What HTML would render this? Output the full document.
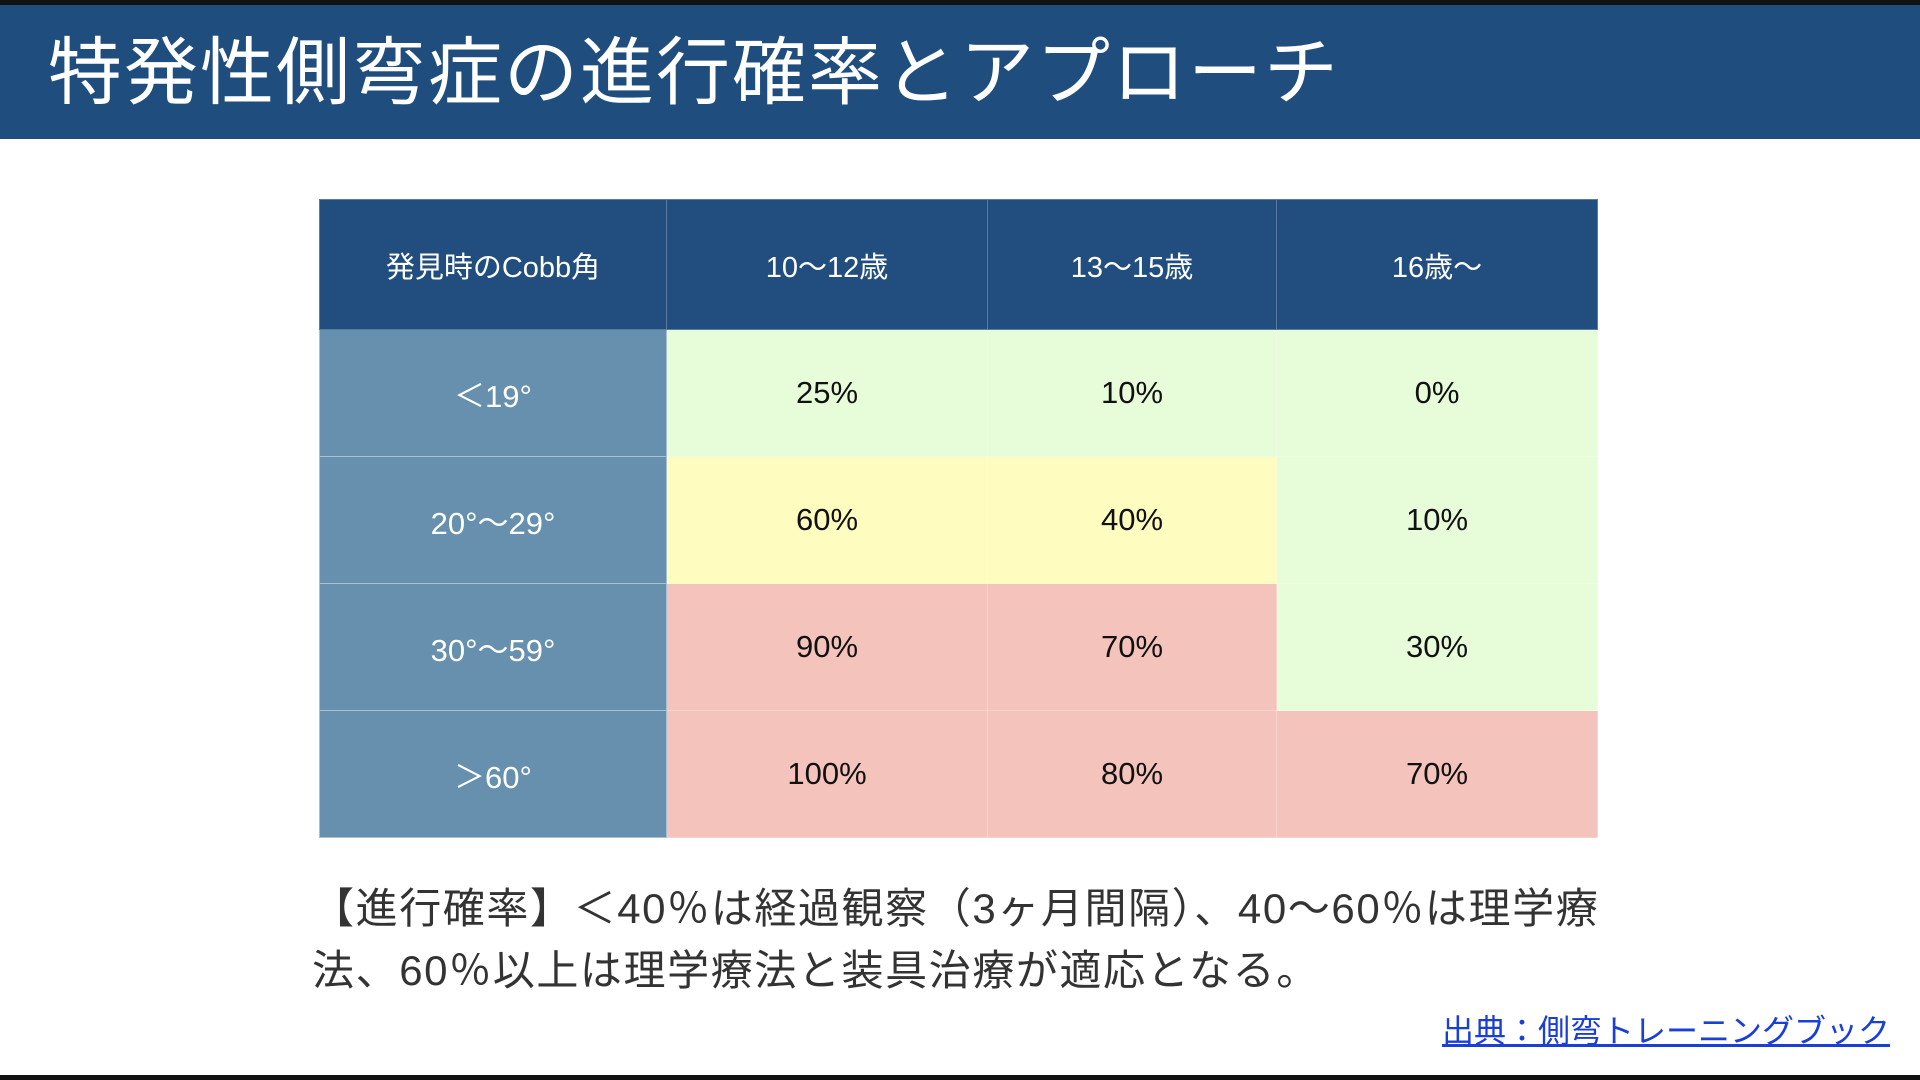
<!DOCTYPE html>
<html><head><meta charset="utf-8"><style>
*{margin:0;padding:0;box-sizing:border-box}
body{width:1920px;height:1080px;background:#fff;position:relative;overflow:hidden;font-family:"Liberation Sans","Noto Sans CJK JP",sans-serif}
.topbar{position:absolute;left:0;top:0;width:1920px;height:5px;background:#111}
.head{position:absolute;left:0;top:5px;width:1920px;height:134px;background:#1f4d7d}
.title{position:absolute;left:48px;top:18px;color:#fff;font-size:74px;line-height:100px;letter-spacing:2px;white-space:nowrap}
table{position:absolute;left:319px;top:199px;border-collapse:collapse;table-layout:fixed}
td{text-align:center;font-size:31px;color:#111;height:127px;border:1px solid rgba(255,255,255,0.25)}
tr.h td{background:#214e7e;color:#fff;height:130px;font-size:29px;border-color:#5a7ca3}
td.rh{background:#6790ae;color:#fff;border-color:#a8c0d4}
.g{background:#e7fcd8}.y{background:#fffcbf}.r{background:#f4c4bc}
.para{position:absolute;left:312px;top:878px;font-size:42px;line-height:62px;color:#333;white-space:nowrap;letter-spacing:1.6px}
.cite{position:absolute;left:1442px;top:1006px;font-size:32px;color:#1a3ed8;text-decoration:underline;white-space:nowrap}
.bot{position:absolute;left:0;top:1075px;width:1920px;height:5px;background:#111}
</style></head><body>
<div class="topbar"></div>
<div class="head"><div class="title">特発性側弯症の進行確率とアプローチ</div></div>
<table>
<colgroup><col style="width:347px"><col style="width:321px"><col style="width:289px"><col style="width:321px"></colgroup>
<tr class="h"><td>発見時のCobb角</td><td>10〜12歳</td><td>13〜15歳</td><td>16歳〜</td></tr>
<tr><td class="rh">＜19°</td><td class="g">25%</td><td class="g">10%</td><td class="g">0%</td></tr>
<tr><td class="rh">20°〜29°</td><td class="y">60%</td><td class="y">40%</td><td class="g">10%</td></tr>
<tr><td class="rh">30°〜59°</td><td class="r">90%</td><td class="r">70%</td><td class="g">30%</td></tr>
<tr><td class="rh">＞60°</td><td class="r">100%</td><td class="r">80%</td><td class="r">70%</td></tr>
</table>
<div class="para">【進行確率】＜40％は経過観察（3ヶ月間隔）、40〜60％は理学療<br>法、60％以上は理学療法と装具治療が適応となる。</div>
<div class="cite">出典：側弯トレーニングブック</div>
<div class="bot"></div>
</body></html>
